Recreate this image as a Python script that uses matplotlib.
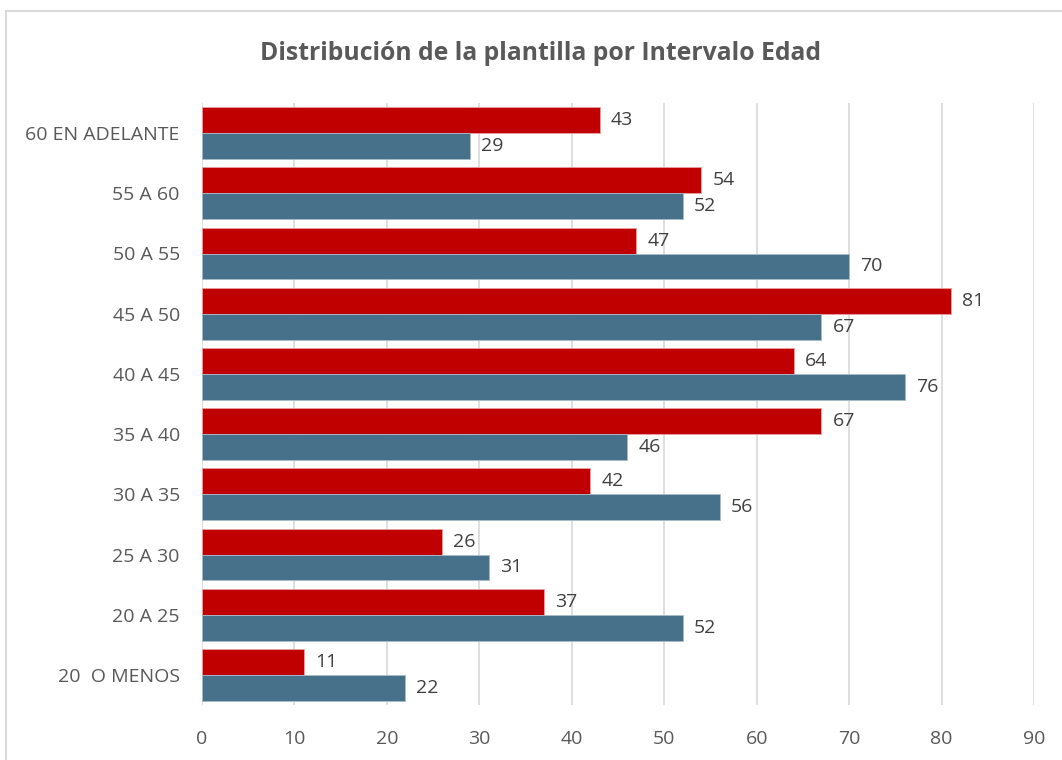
import matplotlib
matplotlib.use("Agg")
import matplotlib.pyplot as plt
from matplotlib.patches import Rectangle
import numpy as np

categories = ["20  O MENOS", "20 A 25", "25 A 30", "30 A 35", "35 A 40",
              "40 A 45", "45 A 50", "50 A 55", "55 A 60", "60 EN ADELANTE"]
red_values = [11, 37, 26, 42, 67, 64, 81, 47, 54, 43]
blue_values = [22, 52, 31, 56, 46, 76, 67, 70, 52, 29]
x_ticks = [0, 10, 20, 30, 40, 50, 60, 70, 80, 90]
title = "Distribución de la plantilla por Intervalo Edad"

plt.rcParams['font.family'] = ['Open Sans', 'DejaVu Sans']

fig = plt.figure(figsize=(10.62, 7.6), dpi=100)
fig.patches.append(Rectangle((6/1062, -0.01), 1.02, 1 - 11/760 + 0.01,
                             transform=fig.transFigure, fill=False,
                             edgecolor="#D9D9D9", linewidth=1.5, zorder=0))
ax = fig.add_axes([202/1062, 1 - 705/760, 832/1062, 602/760])

y = np.arange(len(categories))
h = 0.43
red = "#C00000"
blue = "#47718A"
ax.barh(y + h/2, red_values, height=h, color=red, edgecolor="#E8A0A0", linewidth=0.6, zorder=3)
ax.barh(y - h/2, blue_values, height=h, color=blue, edgecolor="#A8BCC8", linewidth=0.6, zorder=3)

txt_color = "#404040"
for yi, v in zip(y, red_values):
    ax.annotate(str(v), (v, yi + h/2), xytext=(8, 0), textcoords="offset points",
                va="center", ha="left", fontsize=14, color=txt_color)
for yi, v in zip(y, blue_values):
    ax.annotate(str(v), (v, yi - h/2), xytext=(8, 0), textcoords="offset points",
                va="center", ha="left", fontsize=14, color=txt_color)

ax.set_xlim(0, 90)
ax.set_ylim(-0.5, len(categories) - 0.5)
ax.set_xticks(x_ticks)
ax.set_yticks(y)
ax.set_yticklabels(categories)
ax.tick_params(axis="both", length=0, labelsize=14, labelcolor="#595959")
ax.tick_params(axis="x", pad=18)
ax.tick_params(axis="y", pad=16)
ax.xaxis.grid(True, color="#D9D9D9", linewidth=1.2, zorder=0)
ax.set_axisbelow(True)
for s in ax.spines.values():
    s.set_visible(False)

fig.text(541/1062, 1 - 53/760, title, ha="center", va="center",
         fontsize=17.8, fontweight="bold", color="#595959")

fig.savefig("out.png", dpi=100)
